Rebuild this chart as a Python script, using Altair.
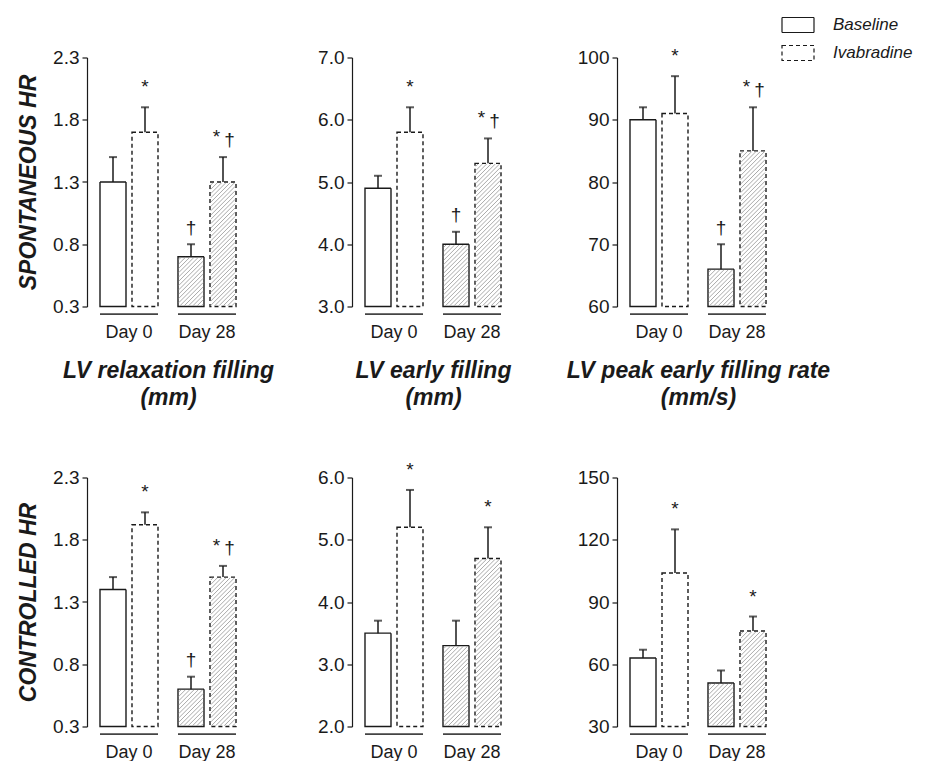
import altair as alt
import pandas as pd

# ---------------- data ----------------
DAYS = ["Day 0", "Day 0", "Day 28", "Day 28"]
GROUPS = ["Baseline", "Ivabradine", "Baseline", "Ivabradine"]

# Spontaneous HR
relax_sp_mean = [1.30, 1.70, 0.70, 1.30]
relax_sp_upper = [1.50, 1.90, 0.80, 1.50]
relax_sp_sig = ["", "*", "†", "*†"]

early_sp_mean = [4.9, 5.8, 4.0, 5.3]
early_sp_upper = [5.1, 6.2, 4.2, 5.7]
early_sp_sig = ["", "*", "†", "*†"]

peak_sp_mean = [90, 91, 66, 85]
peak_sp_upper = [92, 97, 70, 92]
peak_sp_sig = ["", "*", "†", "*†"]

# Controlled HR
relax_ct_mean = [1.40, 1.92, 0.60, 1.50]
relax_ct_upper = [1.50, 2.02, 0.70, 1.59]
relax_ct_sig = ["", "*", "†", "*†"]

early_ct_mean = [3.5, 5.2, 3.3, 4.7]
early_ct_upper = [3.7, 5.8, 3.7, 5.2]
early_ct_sig = ["", "*", "", "*"]

peak_ct_mean = [63, 104, 51, 76]
peak_ct_upper = [67, 125, 57, 83]
peak_ct_sig = ["", "*", "", "*"]

relax_ticks = [0.3, 0.8, 1.3, 1.8, 2.3]
early_sp_ticks = [3.0, 4.0, 5.0, 6.0, 7.0]
peak_sp_ticks = [60, 70, 80, 90, 100]
early_ct_ticks = [2.0, 3.0, 4.0, 5.0, 6.0]
peak_ct_ticks = [30, 60, 90, 120, 150]

row_titles = ["SPONTANEOUS HR", "CONTROLLED HR"]
col_titles = [["LV relaxation filling", "(mm)"],
              ["LV early filling", "(mm)"],
              ["LV peak early filling rate", "(mm/s)"]]

# ---------------- layout ----------------
W, H = 162, 249
X_PAD_IN = 20 / 78
X_PAD_OUT = 13 / 78
OFF_PAD_IN = 6 / 32
BAR_W = 26
INK = "#1a1a1a"
FONT = "Liberation Sans, Arial, Helvetica, sans-serif"


def hatch_path(h, w=BAR_W - 1.6, gap=4.3):
    h = h - 1.6
    hw, hh = w / 2, h / 2
    segs = []
    c = -hw - hh + gap / 2
    while c < hw + hh:
        u1 = max(-hw, c - hh)
        u2 = min(hw, c + hh)
        if u2 - u1 > 0.3:
            segs.append(f"M{u1:.2f},{c - u1:.2f}L{u2:.2f},{c - u2:.2f}")
        c += gap
    return "".join(segs)


def panel(means, uppers, sigs, ticks, fmt, row_title, col_title):
    lo, hi = ticks[0], ticks[-1]
    df = pd.DataFrame({"day": DAYS, "group": GROUPS, "mean": means,
                       "upper": uppers, "sig": sigs})
    df["base"] = lo
    df["mid"] = (df["mean"] + lo) / 2
    df["hatch"] = [hatch_path((m - lo) / (hi - lo) * H) for m in means]

    xaxis = alt.Axis(domain=False, ticks=False, labelAngle=0, labelPadding=17,
                     labelFontSize=18, title=col_title, titlePadding=18,
                     titleFontSize=23, titleFontWeight="bold",
                     titleFontStyle="italic", titleLineHeight=27)
    x = alt.X("day:N", sort=["Day 0", "Day 28"],
              scale=alt.Scale(paddingInner=X_PAD_IN, paddingOuter=X_PAD_OUT),
              axis=xaxis)
    xo = alt.XOffset("group:N", sort=["Baseline", "Ivabradine"],
                     scale=alt.Scale(paddingInner=OFF_PAD_IN, paddingOuter=0))
    yscale = alt.Scale(domain=[lo, hi], zero=False, nice=False)
    yaxis = alt.Axis(values=ticks, format=fmt, grid=False, title=row_title,
                     labelFontSize=19,
                     titleFontSize=23, titleFontWeight="bold",
                     titleFontStyle="italic", titlePadding=12)

    def Y(field):
        return alt.Y(field, type="quantitative", scale=yscale, axis=yaxis)

    base = alt.Chart(df)

    underline = base.mark_bar(color="#444444").encode(
        x=x, y=alt.value(H + 7), y2=alt.value(H + 8.5))

    bars = base.mark_bar(fill="white", stroke=INK, strokeWidth=1.4).encode(
        x=x, xOffset=xo, y=Y("mean"), y2=alt.Y2("base"),
        strokeDash=alt.StrokeDash(
            "group:N",
            scale=alt.Scale(domain=["Baseline", "Ivabradine"], range=[[1, 0], [4, 3]]),
            legend=alt.Legend(title=None, orient="none", legendX=700, legendY=-43.5,
                              symbolType="M-1.6,-0.75L1.6,-0.75L1.6,0.75L-1.6,0.75Z",
                              symbolSize=400, symbolStrokeWidth=1.2,
                              labelFontSize=17, labelFontStyle="italic",
                              labelFont=FONT, labelColor=INK,
                              labelOffset=24, rowPadding=7, padding=0)))

    hatch = base.transform_filter(alt.datum.day == "Day 28").mark_point(
        filled=False, stroke="#9a9a9a", strokeWidth=0.85, size=4, opacity=1
    ).encode(x=x, xOffset=xo, y=Y("mid"),
             shape=alt.Shape("hatch:N", scale=None, legend=None))

    err = base.mark_rule(color=INK, strokeWidth=1.5).encode(
        x=x, xOffset=xo, y=Y("mean"), y2=alt.Y2("upper"))
    cap = base.mark_tick(color=INK, size=8, thickness=2).encode(
        x=x, xOffset=xo, y=Y("upper"))

    tstyle = dict(font=FONT, fontSize=19, color=INK)
    star1 = base.transform_filter(alt.datum.sig == "*").mark_text(
        text="*", dy=-20, **tstyle).encode(x=x, xOffset=xo, y=Y("upper"))
    star2 = base.transform_filter(alt.datum.sig == "*†").mark_text(
        text="*", dx=-6.5, dy=-20, **tstyle).encode(x=x, xOffset=xo, y=Y("upper"))
    dag1 = base.transform_filter(alt.datum.sig == "†").mark_text(
        text="†", dy=-16.5, **tstyle).encode(x=x, xOffset=xo, y=Y("upper"))
    dag2 = base.transform_filter(alt.datum.sig == "*†").mark_text(
        text="†", dx=6.5, dy=-17.5, **tstyle).encode(x=x, xOffset=xo, y=Y("upper"))

    return alt.layer(underline, bars, hatch, err, cap, star1, star2, dag1, dag2
                     ).properties(width=W, height=H)


p1 = panel(relax_sp_mean, relax_sp_upper, relax_sp_sig, relax_ticks, ".1f", row_titles[0], col_titles[0])
p2 = panel(early_sp_mean, early_sp_upper, early_sp_sig, early_sp_ticks, ".1f", None, col_titles[1])
p3 = panel(peak_sp_mean, peak_sp_upper, peak_sp_sig, peak_sp_ticks, "d", None, col_titles[2])
p4 = panel(relax_ct_mean, relax_ct_upper, relax_ct_sig, relax_ticks, ".1f", row_titles[1], None)
p5 = panel(early_ct_mean, early_ct_upper, early_ct_sig, early_ct_ticks, ".1f", None, None)
p6 = panel(peak_ct_mean, peak_ct_upper, peak_ct_sig, peak_ct_ticks, "d", None, None)

top = alt.hconcat(p1, p2, p3, spacing=103, bounds="flush")
bottom = alt.hconcat(p4, p5, p6, spacing=103, bounds="flush")

chart = alt.vconcat(top, bottom, spacing=420, bounds="flush").properties(
    padding={"left": 17, "top": 13.5, "right": 5, "bottom": 0}
).configure_view(stroke=None).configure_axis(
    labelFont=FONT, labelFontSize=18, labelColor=INK,
    titleFont=FONT, titleColor=INK,
    domainColor=INK, tickColor=INK, domainWidth=1.2, tickWidth=1.2,
    tickSize=5, labelPadding=3
)

chart.save("out.html", embed_options={"renderer": "svg", "actions": False})
